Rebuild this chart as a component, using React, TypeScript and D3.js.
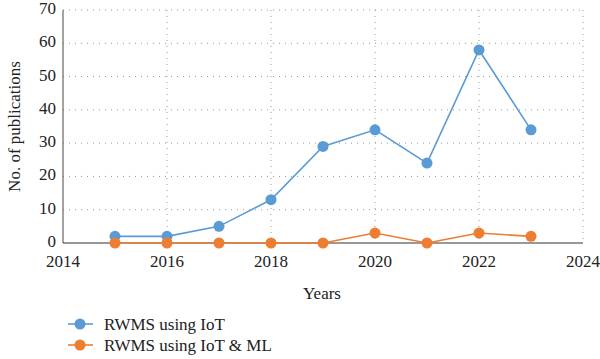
import React from "react";
import * as d3 from "d3";

const years = [2015, 2016, 2017, 2018, 2019, 2020, 2021, 2022, 2023];
const iotValues = [2, 2, 5, 13, 29, 34, 24, 58, 34];
const iotMlValues = [0, 0, 0, 0, 0, 3, 0, 3, 2];
const xTicks = [2014, 2016, 2018, 2020, 2022, 2024];
const yTicks = [0, 10, 20, 30, 40, 50, 60, 70];
const seriesNames = ["RWMS using IoT", "RWMS using IoT & ML"];
const colors = ["#5B9BD5", "#ED7D31"];

const W = 600, H = 359;
const font = "'Liberation Serif', 'DejaVu Serif', serif";

export default function App() {
  const x = d3.scaleLinear().domain([2014, 2024]).range([63, 583]);
  const y = d3.scaleLinear().domain([0, 70]).range([243, 10]);
  const line = d3.line<number>().x((_, i) => x(years[i])).y((d) => y(d));
  const series = [iotValues, iotMlValues];
  return (
    <svg width={W} height={H} style={{ position: "absolute", left: 0, top: 0, background: "#fff" }} fontFamily={font}>
      {yTicks.slice(1).map((t) => (
        <line key={"h" + t} x1={x(2014)} x2={x(2024)} y1={y(t)} y2={y(t)} stroke="#999" strokeWidth={1} strokeDasharray="1,5" />
      ))}
      {xTicks.slice(1).map((t) => (
        <line key={"v" + t} x1={x(t)} x2={x(t)} y1={y(70)} y2={y(0)} stroke="#999" strokeWidth={1} strokeDasharray="1,5" />
      ))}
      <line x1={x(2014)} x2={x(2014)} y1={y(70)} y2={y(0)} stroke="#666" strokeWidth={1.2} />
      <line x1={x(2014)} x2={x(2024)} y1={y(0)} y2={y(0)} stroke="#333" strokeWidth={1.2} />
      {yTicks.map((t) => (
        <text key={"yl" + t} x={56} y={y(t) - 2} dy="0.35em" textAnchor="end" fontSize={17} fill="#222">{t}</text>
      ))}
      {xTicks.map((t) => (
        <text key={"xl" + t} x={x(t)} y={267} textAnchor="middle" fontSize={17} fill="#222">{t}</text>
      ))}
      <text x={322} y={299} textAnchor="middle" fontSize={17} fill="#222">Years</text>
      <text transform={`translate(20,${y(35)}) rotate(-90)`} textAnchor="middle" fontSize={17} fill="#222">No. of publications</text>
      {series.map((s, k) => (
        <g key={"s" + k}>
          <path d={line(s) || ""} fill="none" stroke={colors[k]} strokeWidth={1.6} />
          {s.map((v, i) => (
            <circle key={i} cx={x(years[i])} cy={y(v)} r={5.5} fill={colors[k]} />
          ))}
        </g>
      ))}
      {seriesNames.map((n, k) => (
        <g key={"lg" + k} transform={`translate(0,${324 + k * 21})`}>
          <line x1={68} x2={93} y1={0} y2={0} stroke={colors[k]} strokeWidth={1.6} />
          <circle cx={80} cy={0} r={5.5} fill={colors[k]} />
          <text x={104} y={0} dy="0.35em" fontSize={17} fill="#222">{n}</text>
        </g>
      ))}
    </svg>
  );
}
